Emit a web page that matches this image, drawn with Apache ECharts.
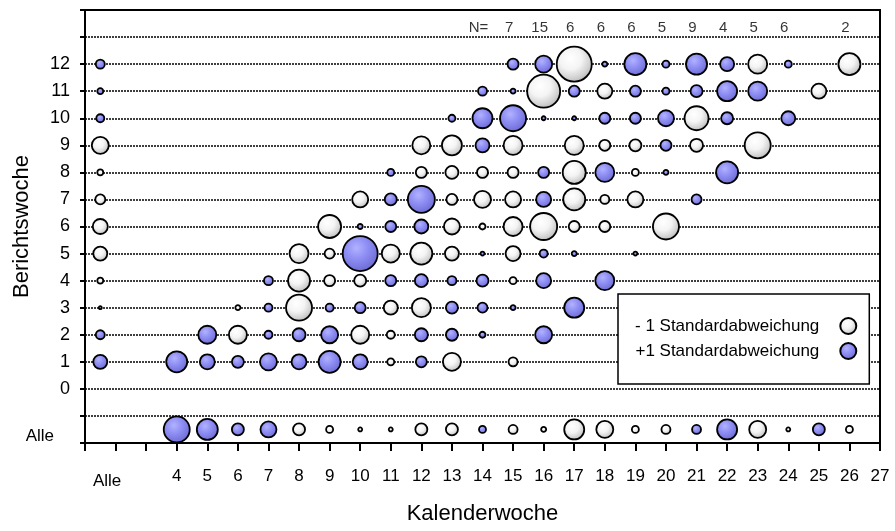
<!DOCTYPE html>
<html><head><meta charset="utf-8">
<script src="https://cdn.jsdelivr.net/npm/echarts@6/dist/echarts.min.js"></script>
<style>html,body{margin:0;padding:0;background:#fff}#c{width:895px;height:531px}</style>
</head><body><div id="c"></div>
<script>
// ---- data ----
const ALLE_COL = 1.5;   // column "Alle" on the x axis
const ALLE_ROW = -1.5;  // row "Alle" on the y axis
// [Kalenderwoche, Berichtswoche, Größe]
const minusSD = [
  [17,12,35],[23,12,19],[26,12,22],
  [16,11,33],[18,11,15],[25,11,15],
  [21,10,24],
  [ALLE_COL,9,17],[12,9,18],[13,9,20],[15,9,19],[17,9,19],[18,9,11],[19,9,12],[21,9,13],[23,9,26],
  [ALLE_COL,8,6],[12,8,11],[13,8,13],[14,8,11],[15,8,11],[17,8,23],[19,8,7],
  [ALLE_COL,7,10],[10,7,16],[13,7,11],[14,7,17],[15,7,16],[17,7,22],[18,7,9],[19,7,16],
  [ALLE_COL,6,15],[9,6,23],[13,6,16],[14,6,6],[15,6,19],[16,6,27],[17,6,11],[18,6,11],[20,6,26],
  [ALLE_COL,5,14],[8,5,19],[9,5,10],[11,5,18],[12,5,22],[13,5,14],[15,5,15],
  [ALLE_COL,4,6],[8,4,22],[9,4,11],[10,4,12],[15,4,7],
  [6,3,5],[8,3,26],[11,3,14],[12,3,19],
  [6,2,18],[10,2,18],[11,2,8],
  [11,1,7],[13,1,18],[15,1,9],
  [8,ALLE_ROW,12],[9,ALLE_ROW,7],[10,ALLE_ROW,4],[11,ALLE_ROW,4],[12,ALLE_ROW,12],[13,ALLE_ROW,12],
  [15,ALLE_ROW,9],[16,ALLE_ROW,5],[17,ALLE_ROW,20],[18,ALLE_ROW,17],[19,ALLE_ROW,7],[20,ALLE_ROW,9],
  [23,ALLE_ROW,17],[24,ALLE_ROW,4],[26,ALLE_ROW,7]
];
const plusSD = [
  [ALLE_COL,12,9],[15,12,11],[16,12,17],[18,12,5],[19,12,22],[20,12,7],[21,12,21],[22,12,14],[24,12,7],
  [ALLE_COL,11,6],[14,11,9],[15,11,5],[17,11,11],[19,11,11],[20,11,7],[21,11,12],[22,11,20],[23,11,19],
  [ALLE_COL,10,8],[13,10,7],[14,10,20],[15,10,26],[16,10,4],[17,10,4],[18,10,11],[19,10,11],[20,10,16],[22,10,12],[24,10,14],
  [14,9,14],[20,9,11],
  [11,8,7],[16,8,11],[18,8,19],[20,8,5],[22,8,22],
  [11,7,12],[12,7,27],[16,7,15],[21,7,10],
  [10,6,5],[11,6,11],[12,6,14],
  [10,5,35],[14,5,4],[16,5,8],[17,5,5],[19,5,4],
  [7,4,9],[11,4,11],[12,4,13],[13,4,9],[14,4,12],[16,4,15],[18,4,19],
  [ALLE_COL,3,3],[7,3,8],[9,3,8],[10,3,11],[13,3,12],[14,3,10],[15,3,5],[17,3,20],
  [ALLE_COL,2,9],[5,2,18],[7,2,8],[8,2,13],[9,2,17],[12,2,13],[13,2,12],[14,2,6],[16,2,17],
  [ALLE_COL,1,14],[4,1,21],[5,1,15],[6,1,12],[7,1,17],[8,1,15],[9,1,22],[10,1,15],[12,1,11],
  [4,ALLE_ROW,26],[5,ALLE_ROW,21],[6,ALLE_ROW,12],[7,ALLE_ROW,16],[14,ALLE_ROW,7],[21,ALLE_ROW,9],[22,ALLE_ROW,20],[25,ALLE_ROW,12]
];
const nLabelCol = 14;
const nCols = [15,16,17,18,19,20,21,22,23,24,26];
const nVals = [7,15,6,6,6,5,9,4,5,6,2];
const N_ROW = 13.35;
const yTickLabels = [0,1,2,3,4,5,6,7,8,9,10,11,12];
const xTickLabels = [4,5,6,7,8,9,10,11,12,13,14,15,16,17,18,19,20,21,22,23,24,25,26,27];
const seriesNames = ['- 1 Standardabweichung', '+1 Standardabweichung'];

// ---- styles ----
const FONT = 'Liberation Sans, Arial, sans-serif';
function radial(stops){ return new echarts.graphic.RadialGradient(0.4,0.35,0.75, stops.map(c=>({offset:c[0],color:c[1]}))); }
const whiteFill = radial([[0,'#ffffff'],[0.4,'#f4f4f4'],[0.72,'#d0d0d0'],[1,'#a4a4a4']]);
const blueFill  = radial([[0,'#b2b2ff'],[0.4,'#8e8ef4'],[0.78,'#7272da'],[1,'#5656b4']]);

const nData = [[nLabelCol, N_ROW, 'N=']].concat(nCols.map((c,i)=>[c, N_ROW, String(nVals[i])]));

const chart = echarts.init(document.getElementById('c'), null, {renderer:'canvas'});
chart.setOption({
  animation:false,
  backgroundColor:'#fff',
  textStyle:{fontFamily:FONT, color:'#000'},
  grid:{left:85,right:15,top:10,bottom:88,show:true,borderColor:'#000',borderWidth:2,
        backgroundColor:'transparent', outerBoundsMode:'none', containLabel:false},
  legend:{
    data:seriesNames, orient:'vertical', left:618, top:294, align:'right',
    padding:[23,12,24,17], itemGap:7, itemWidth:18, itemHeight:16,
    borderColor:'#000', borderWidth:1.5, borderRadius:0, backgroundColor:'#fff',
    formatter:n=>'{t|'+n+'}',
    textStyle:{fontSize:17, fontFamily:FONT, color:'#000',
      rich:{t:{fontSize:17, fontFamily:FONT, color:'#000', padding:[0,15,0,0]}}},
    selectedMode:false
  },
  xAxis:{
    type:'value', min:1, max:27, interval:1,
    name:'Kalenderwoche', nameLocation:'middle', nameGap:60, nameMoveOverlap:false,
    nameTextStyle:{fontSize:22, fontFamily:FONT, color:'#000'},
    axisLine:{show:true,onZero:false,lineStyle:{color:'#000',width:2}},
    axisTick:{show:true,length:8,lineStyle:{color:'#000',width:2}},
    splitLine:{show:false},
    axisLabel:{
      margin:25, fontSize:17, color:'#000', fontFamily:FONT, hideOverlap:false,
      formatter:v=> v===2 ? '{alle|Alle}' : (xTickLabels.indexOf(v)>=0 ? String(v) : ''),
      rich:{alle:{fontSize:17, fontFamily:FONT, color:'#000', padding:[5,17,0,0]}}
    }
  },
  yAxis:{
    type:'value', min:-2, max:14, interval:1,
    name:'Berichtswoche', nameLocation:'middle', nameGap:52, nameRotate:90, nameMoveOverlap:false,
    nameTextStyle:{fontSize:22, fontFamily:FONT, color:'#000'},
    axisLine:{show:true,onZero:false,lineStyle:{color:'#000',width:2}},
    axisTick:{show:true,length:5,lineStyle:{color:'#000',width:2}},
    splitLine:{show:true,lineStyle:{color:'#000',width:1.5,type:[2,1]}},
    axisLabel:{
      margin:15, fontSize:18, color:'#000', fontFamily:FONT, hideOverlap:false,
      formatter:v=> v===-2 ? '{alle|Alle}' : (yTickLabels.indexOf(v)>=0 ? String(v) : ''),
      rich:{alle:{fontSize:17, fontFamily:FONT, color:'#000', padding:[0,16,14,0]}}
    }
  },
  series:[
    {name:seriesNames[0], type:'scatter', data:minusSD, symbol:'circle',
     symbolSize:v=>v[2], z:3,
     itemStyle:{color:whiteFill, borderColor:'#000', borderWidth:1.8, opacity:1}},
    {name:seriesNames[1], type:'scatter', data:plusSD, symbol:'circle',
     symbolSize:v=>v[2], z:3,
     itemStyle:{color:blueFill, borderColor:'#000', borderWidth:1.8, opacity:1}},
    {name:'N', type:'scatter', data:nData, symbolSize:0, silent:true, z:4,
     label:{show:true, position:'inside', offset:[-4,0], formatter:p=>p.data[2], fontSize:15, color:'#000', fontFamily:FONT}}
  ]
});
</script></body></html>
